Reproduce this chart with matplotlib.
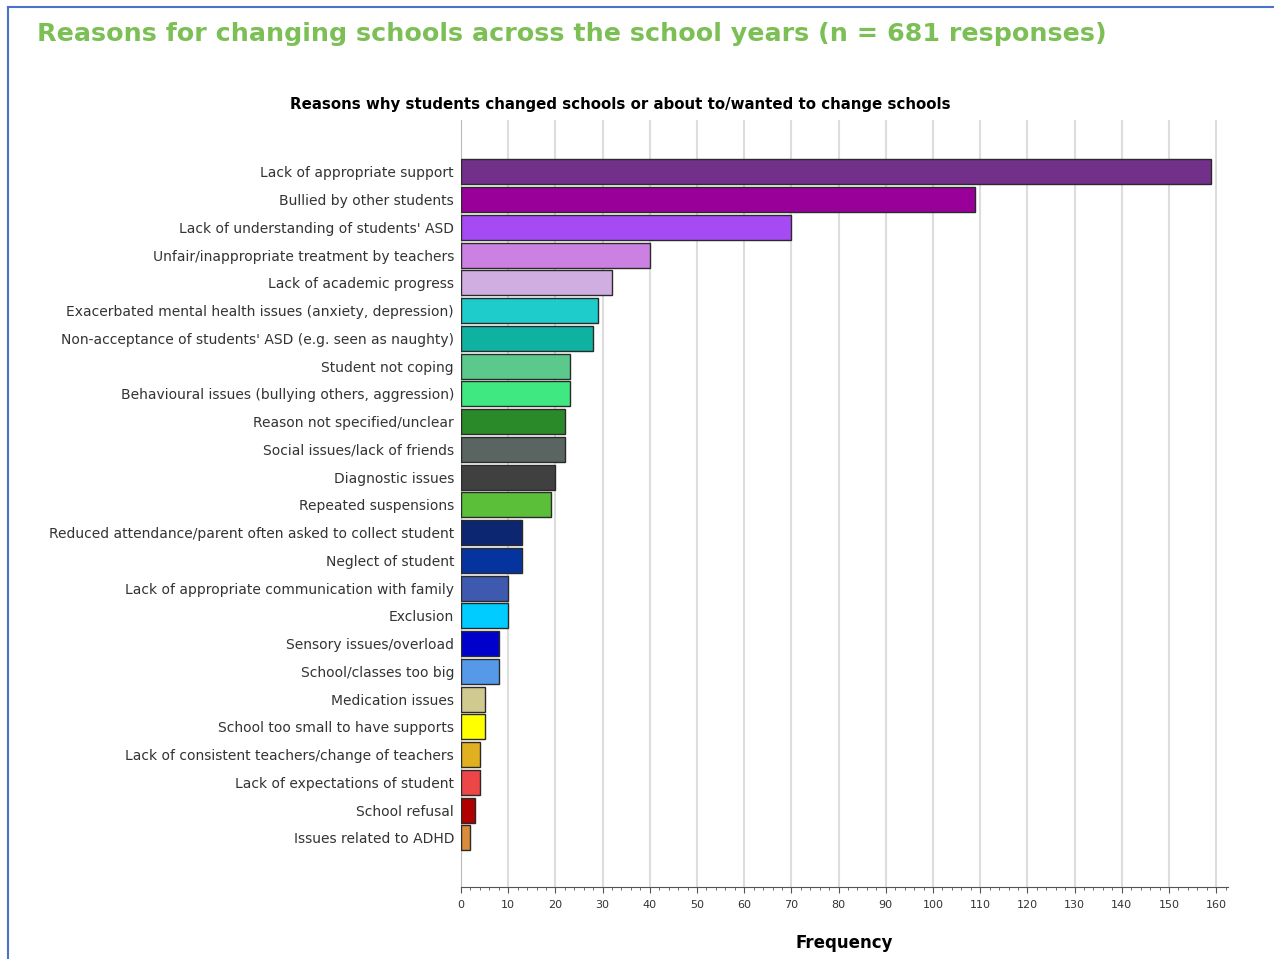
import matplotlib.pyplot as plt
from matplotlib.lines import Line2D
from matplotlib.ticker import MultipleLocator

# data (sums to 681)
reasons = [
    "Lack of appropriate support",
    "Bullied by other students",
    "Lack of understanding of students' ASD",
    "Unfair/inappropriate treatment by teachers",
    "Lack of academic progress",
    "Exacerbated mental health issues (anxiety, depression)",
    "Non-acceptance of students' ASD (e.g. seen as naughty)",
    "Student not coping",
    "Behavioural issues (bullying others, aggression)",
    "Reason not specified/unclear",
    "Social issues/lack of friends",
    "Diagnostic issues",
    "Repeated suspensions",
    "Reduced attendance/parent often asked to collect student",
    "Neglect of student",
    "Lack of appropriate communication with family",
    "Exclusion",
    "Sensory issues/overload",
    "School/classes too big",
    "Medication issues",
    "School too small to have supports",
    "Lack of consistent teachers/change of teachers",
    "Lack of expectations of student",
    "School refusal",
    "Issues related to ADHD",
]
counts = [159, 109, 70, 40, 32, 29, 28, 23, 23, 22, 22, 20, 19,
          13, 13, 10, 10, 8, 8, 5, 5, 4, 4, 3, 2]
colors = ["#72308A", "#990099", "#A64BF4", "#CC80E2", "#D0AEE2",
          "#1FCCCC", "#0FB2A0", "#5CC98C", "#3FE880", "#2A8A2A",
          "#5A6460", "#404040", "#5CBF3A", "#0D2672", "#06349E",
          "#3D5AAE", "#00CCFF", "#0000CC", "#5599E8", "#D0C990",
          "#FFFF00", "#E0B020", "#EE4646", "#B00000", "#D98C3A"]

W, H = 1274, 959
fig = plt.figure(figsize=(W / 100, H / 100), dpi=100)

# blue frame: only top and left edges are visible in the screenshot
fig.add_artist(Line2D([8 / W, 1], [1 - 7 / H, 1 - 7 / H], color="#4A72C8",
                      linewidth=1.5, transform=fig.transFigure))
fig.add_artist(Line2D([8 / W, 8 / W], [0, 1 - 7 / H], color="#4A72C8",
                      linewidth=1.5, transform=fig.transFigure))

fig.text(37 / W, 1 - 34 / H,
         "Reasons for changing schools across the school years (n = 681 responses)",
         color="#7CBF55", fontsize=18.3, fontweight="bold", family="DejaVu Sans",
         va="center", ha="left")

ax = fig.add_axes([461 / W, 1 - 887 / H, 767 / W, 767 / H])
pos = list(range(len(reasons)))
ax.barh(pos, counts, height=0.9, color=colors, edgecolor="#2a2a2a",
        linewidth=1.0, zorder=3)

ax.set_xlim(0, 162.5)
ax.set_ylim(25.77, -1.87)
ax.set_yticks(pos)
ax.set_yticklabels(reasons, fontsize=10, color="#333333")
ax.tick_params(axis="y", length=0, pad=5)

ax.xaxis.set_major_locator(MultipleLocator(10))
ax.xaxis.set_minor_locator(MultipleLocator(2))
ax.tick_params(axis="x", which="major", length=4, color="#555555",
               labelsize=8, labelcolor="#333333", pad=5)
ax.tick_params(axis="x", which="minor", length=2.5, color="#555555")

ax.grid(axis="x", which="major", color="#DDDDDD", linewidth=1.5, zorder=0)
for side in ["top", "right"]:
    ax.spines[side].set_visible(False)
ax.spines["left"].set_color("#BBBBBB")
ax.spines["bottom"].set_color("#555555")

ax.set_xlabel("Frequency", fontsize=12, fontweight="bold", labelpad=18)
fig.text(620 / W, 1 - 104 / H,
         "Reasons why students changed schools or about to/wanted to change schools",
         fontsize=10.8, fontweight="bold", ha="center", va="center")

fig.savefig("out.png", dpi=100)
